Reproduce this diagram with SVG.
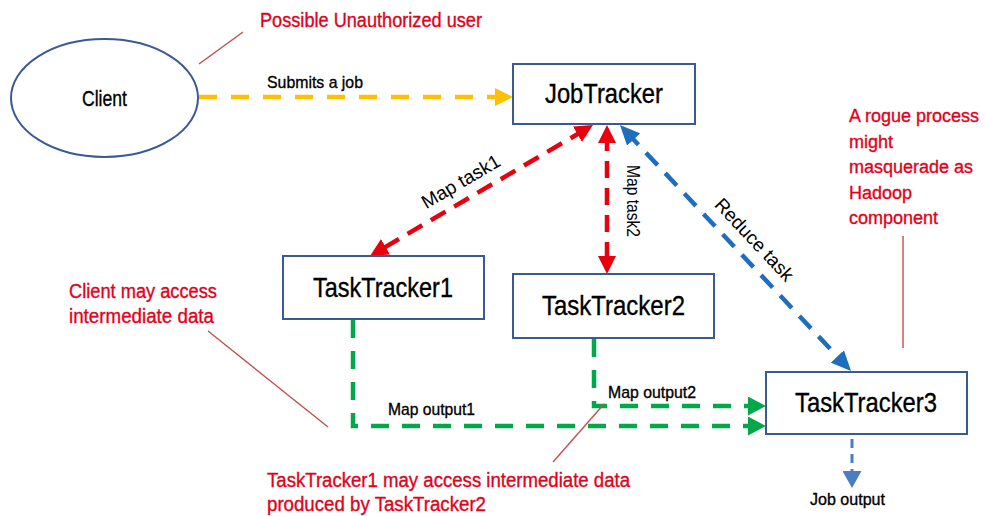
<svg xmlns="http://www.w3.org/2000/svg" width="985" height="516" viewBox="0 0 985 516">
<style>
.node{fill:#fff;stroke:#3B5A92;stroke-width:2}
.lbl{font-family:"Liberation Sans Narrow","Liberation Sans",Arial,sans-serif;fill:#000;stroke:#000;stroke-width:0.35}
.big{font-size:28px}
.sm{font-size:17px}
.red{font-family:"Liberation Sans Narrow","Liberation Sans",Arial,sans-serif;font-size:20px;fill:#E3001B;stroke:#E3001B;stroke-width:0.35}
.rg{font-size:18px}
.rot{font-family:"Liberation Sans",Arial,sans-serif;font-size:19px;fill:#000}
.note{stroke:#C0504D;stroke-width:1.4;fill:none}
.yel{stroke:#FFC000;stroke-width:4.5;fill:none;stroke-dasharray:18 14}
.rd{stroke:#E8000E;stroke-width:4.5;fill:none;stroke-dasharray:17 10}
.bl{stroke:#1F6EBE;stroke-width:4.5;fill:none;stroke-dasharray:17 11}
.gr{stroke:#00A84A;stroke-width:4.5;fill:none;stroke-dasharray:18 13}
.jo{stroke:#4A7EC4;stroke-width:3;fill:none;stroke-dasharray:9 6}
</style>
<defs>
<marker id="aY" viewBox="0 0 18 18" refX="9" refY="9" markerWidth="18" markerHeight="18" markerUnits="userSpaceOnUse" orient="auto"><path d="M0,0 L18,9 L0,18 z" fill="#FFC000"/></marker>
<marker id="aR" viewBox="0 0 18 18" refX="9" refY="9" markerWidth="18" markerHeight="18" markerUnits="userSpaceOnUse" orient="auto-start-reverse"><path d="M0,0 L18,9 L0,18 z" fill="#E8000E"/></marker>
<marker id="aB" viewBox="0 0 20 18" refX="10" refY="9" markerWidth="20" markerHeight="18" markerUnits="userSpaceOnUse" orient="auto-start-reverse"><path d="M0,0 L20,9 L0,18 z" fill="#1F6EBE"/></marker>
<marker id="aG" viewBox="0 0 18 19" refX="9" refY="9.5" markerWidth="18" markerHeight="19" markerUnits="userSpaceOnUse" orient="auto"><path d="M0,0 L18,9.5 L0,19 z" fill="#00A84A"/></marker>
<marker id="aJ" viewBox="0 0 17 19" refX="8" refY="9.5" markerWidth="17" markerHeight="19" markerUnits="userSpaceOnUse" orient="auto"><path d="M0,0 L17,9.5 L0,19 z" fill="#4A7EC4"/></marker>
</defs>

<g id="connectors">
<path class="yel" d="M199,97 H504" marker-end="url(#aY)"/>
<path class="rd" d="M585.2,129.6 L377.8,251.4" marker-start="url(#aR)" marker-end="url(#aR)"/>
<path class="rd" d="M607,134 V265" marker-start="url(#aR)" marker-end="url(#aR)"/>
<path class="bl" d="M626.8,132.3 L844.2,363.7" marker-start="url(#aB)" marker-end="url(#aB)"/>
<path class="gr" d="M353,320 V426 H757" marker-end="url(#aG)"/>
<path class="gr" d="M594,339 V406 H757" marker-end="url(#aG)"/>
<path class="jo" d="M852,439 V479" marker-end="url(#aJ)"/>
<text class="lbl" x="267" y="88" font-size="17" textLength="96" lengthAdjust="spacingAndGlyphs">Submits a job</text>
<text class="rot" transform="translate(461,182) rotate(-30.4)" x="0" y="6" text-anchor="middle">Map task1</text>
<text class="rot" transform="translate(633,201) rotate(90)" x="0" y="6" text-anchor="middle" font-size="17" textLength="72" lengthAdjust="spacingAndGlyphs">Map task2</text>
<text class="rot" transform="translate(754,240) rotate(46.8)" x="0" y="6" text-anchor="middle">Reduce task</text>
<text class="lbl sm" x="388" y="415" textLength="87" lengthAdjust="spacingAndGlyphs">Map output1</text>
<text class="lbl sm" x="608" y="398" textLength="88" lengthAdjust="spacingAndGlyphs">Map output2</text>
<text class="lbl sm" x="810" y="505" textLength="75" lengthAdjust="spacingAndGlyphs">Job output</text>
</g>

<g id="client">
<ellipse class="node" cx="104.5" cy="98" rx="93.5" ry="59"/>
<text class="lbl" x="104.5" y="106" font-size="22" text-anchor="middle" textLength="45" lengthAdjust="spacingAndGlyphs">Client</text>
</g>
<g id="jobtracker">
<rect class="node" x="513" y="64" width="182" height="60"/>
<text class="lbl big" x="604" y="103" text-anchor="middle" textLength="118" lengthAdjust="spacingAndGlyphs">JobTracker</text>
</g>
<g id="tasktracker1">
<rect class="node" x="283" y="256" width="201" height="63"/>
<text class="lbl big" x="383" y="297" text-anchor="middle" textLength="140" lengthAdjust="spacingAndGlyphs">TaskTracker1</text>
</g>
<g id="tasktracker2">
<rect class="node" x="513" y="274" width="201" height="64"/>
<text class="lbl big" x="613.5" y="315" text-anchor="middle" textLength="143" lengthAdjust="spacingAndGlyphs">TaskTracker2</text>
</g>
<g id="tasktracker3">
<rect class="node" x="766" y="372" width="201" height="62"/>
<text class="lbl big" x="866" y="412" text-anchor="middle" textLength="142" lengthAdjust="spacingAndGlyphs">TaskTracker3</text>
</g>

<g id="note-unauthorized">
<line class="note" x1="199" y1="64" x2="243" y2="32"/>
<text class="red" x="260" y="27" textLength="222" lengthAdjust="spacingAndGlyphs">Possible Unauthorized user</text>
</g>
<g id="note-client-access">
<line class="note" x1="208" y1="331" x2="328" y2="427"/>
<text class="red" x="69" y="298" textLength="148" lengthAdjust="spacingAndGlyphs">Client may access</text>
<text class="red" x="69" y="323" textLength="145" lengthAdjust="spacingAndGlyphs">intermediate data</text>
</g>
<g id="note-tt1-access">
<line class="note" x1="604" y1="404" x2="553" y2="462"/>
<text class="red" x="267" y="487" textLength="363" lengthAdjust="spacingAndGlyphs">TaskTracker1 may access intermediate data</text>
<text class="red" x="267" y="511" textLength="219" lengthAdjust="spacingAndGlyphs">produced by TaskTracker2</text>
</g>
<g id="note-rogue">
<line class="note" x1="903" y1="236" x2="903" y2="348"/>
<text class="red rg" x="849" y="122">A rogue process</text>
<text class="red rg" x="849" y="147.5">might</text>
<text class="red rg" x="849" y="173">masquerade as</text>
<text class="red rg" x="849" y="198.5">Hadoop</text>
<text class="red rg" x="849" y="224">component</text>
</g>
</svg>
